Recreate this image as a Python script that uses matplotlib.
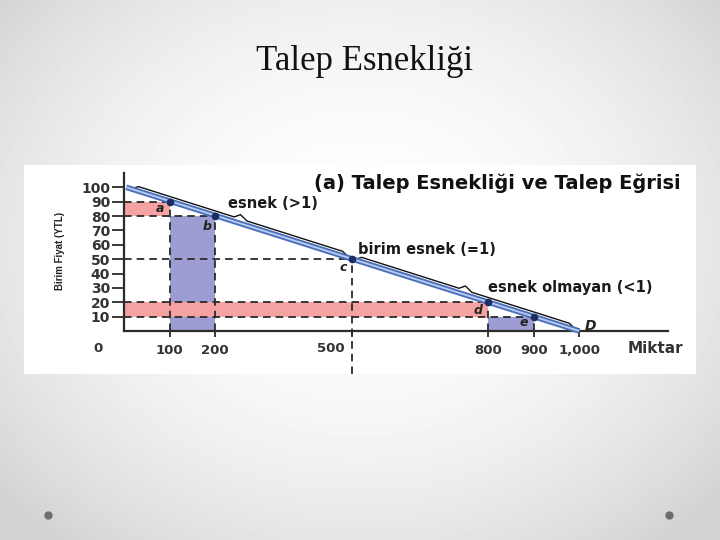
import numpy as np
import matplotlib
matplotlib.use("Agg")
import matplotlib.pyplot as plt
from matplotlib.patches import Rectangle

# Chart data
price_ticks = [10, 20, 30, 40, 50, 60, 70, 80, 90, 100]
qty_ticks = [100, 200, 500, 800, 900, 1000]
qty_labels = ["100", "200", "500", "800", "900", "1,000"]
demand_q = [5, 1000]
demand_p = [100, 0]
point_names = ["a", "b", "c", "d", "e"]
point_q = [100, 200, 500, 800, 900]
point_p = [90, 80, 50, 20, 10]
segment_labels = ["esnek (>1)", "birim esnek (=1)", "esnek olmayan (<1)"]

slide_title = "Talep Esnekliği"
chart_title = "(a) Talep Esnekliği ve Talep Eğrisi"

W, H = 720, 540
fig = plt.figure(figsize=(7.2, 5.4), dpi=100)

# slide background: soft radial gradient
bg = fig.add_axes([0, 0, 1, 1])
yy, xx = np.mgrid[0:1:270j, 0:1:360j]
r = np.sqrt(((xx - 0.5) / 0.5) ** 2 + ((yy - 0.45) / 0.55) ** 2)
bg.imshow(1 - 0.17 * np.clip(r / 1.3, 0, 1) ** 2, cmap="gray", vmin=0, vmax=1,
          extent=[0, 1, 0, 1], aspect="auto")
bg.set_xlim(0, 1)
bg.set_ylim(0, 1)
bg.axis("off")
bg.text(365 / W, 1 - 62 / H, slide_title, ha="center", va="center",
        fontsize=25, family="Liberation Serif", color="#111111")
for bx in (48, 669):
    bg.plot(bx / W, 1 - 515 / H, "o", color="#6e6e6e", markersize=5)

# picture panel with the chart
px_left, px_right, px_top, px_bot = 24, 696, 165, 374
x0_px, x_scale = 124, 0.4553     # pixel of q=0, pixels per unit
y0_px, y_scale = 331, 1.437      # pixel of p=0, pixels per unit
ax = fig.add_axes([px_left / W, 1 - px_bot / H, (px_right - px_left) / W,
                   (px_bot - px_top) / H])
ax.set_facecolor("white")
ax.set_xlim((px_left - x0_px) / x_scale, (px_right - x0_px) / x_scale)
ax.set_ylim((y0_px - px_bot) / y_scale, (y0_px - px_top) / y_scale)

for s in ("top", "right"):
    ax.spines[s].set_visible(False)
ax.spines["left"].set_position(("data", 0))
ax.spines["bottom"].set_position(("data", 0))
ax.spines["left"].set_bounds(0, 110)
ax.spines["bottom"].set_bounds(0, 1195)
for s in ("left", "bottom"):
    ax.spines[s].set_color("#2b2b2b")
    ax.spines[s].set_linewidth(1.6)

ax.set_yticks(price_ticks)
ax.set_yticklabels([str(v) for v in price_ticks], fontsize=10, fontweight="bold")
ax.set_xticks(qty_ticks)
# the "500" label sits left of its dashed line, drawn separately below
ax.set_xticklabels(["" if q == 500 else t for q, t in zip(qty_ticks, qty_labels)],
                   fontsize=9.5, fontweight="bold")
ax.tick_params(axis="y", direction="out", length=8.5, width=1.3, pad=1.5, colors="#2b2b2b")
ax.tick_params(axis="x", direction="out", length=4, width=1.3, pad=5, colors="#2b2b2b")
for lab in ax.get_xticklabels() + ax.get_yticklabels():
    lab.set_color("#333333")
ax.text(500 - 45, -12.5, qty_labels[qty_ticks.index(500)], ha="center", va="center",
        fontsize=9.5, fontweight="bold", color="#333333")

ax.text(-57, -12.5, "0", ha="center", va="center", fontsize=9.5,
        fontweight="bold", color="#333333")
ax.text(1168, -12.5, "Miktar", ha="center", va="center", fontsize=11,
        fontweight="bold", color="#333333")
ax.text(-141, 56, "Birim Fiyat (YTL)", rotation=90, ha="center", va="center",
        fontsize=7, fontweight="bold", color="#222222", family="Liberation Sans")
ax.text(820, 103, chart_title, ha="center", va="center", fontsize=14,
        fontweight="bold", color="#111111")

# shaded revenue areas for the two pairs (a,b) and (d,e)
pink, lilac = "#f5a2a2", "#9d9dd3"
for i in (0, 3):
    q1, q2 = point_q[i], point_q[i + 1]
    p1, p2 = point_p[i], point_p[i + 1]
    ax.add_patch(Rectangle((0, p2), q1, p1 - p2, facecolor=pink, edgecolor="none", zorder=1))
    ax.add_patch(Rectangle((q1, 0), q2 - q1, p2, facecolor=lilac, edgecolor="none", zorder=1))

# dashed guides
dash = (0, (4.2, 2.8))
for q, p in zip(point_q, point_p):
    ax.plot([0, q], [p, p], color="#2b2b2b", lw=1.3, ls=dash, zorder=2)
    bottom = ax.get_ylim()[0] if q == 500 else 0
    ax.plot([q, q], [bottom, p], color="#2b2b2b", lw=1.3, ls=dash, zorder=2,
            clip_on=False)

# braces above the demand line
def brace(qa, qb, off=3.2, bump=3.0):
    qm = (qa + qb) / 2
    qs = np.array([qa, qa + 12, qm - 14, qm, qm + 14, qb - 12, qb])
    offs = np.array([0.8, off, off, off + bump, off, off, 0.8])
    ps = np.interp(qs, demand_q, demand_p) + offs
    ax.plot(qs, ps, color="#111111", lw=1.0, zorder=3)

brace(20, 492)
brace(510, 990)

# demand curve
ax.plot(demand_q, demand_p, color="#4a6fbd", lw=4.0, solid_capstyle="butt", zorder=4)
ax.plot(demand_q, demand_p, color="#b9cdee", lw=1.3, solid_capstyle="butt", zorder=5)
ax.plot(point_q, point_p, "o", color="#1b2d63", markersize=4.5, zorder=6)

label_off = [(-21, -5), (-18, -7), (-19, -5.5), (-23, -6), (-22, -4)]
for name, q, p, (dq, dp) in zip(point_names, point_q, point_p, label_off):
    ax.text(q + dq, p + dp, name, ha="center", va="center", fontsize=9,
            fontweight="bold", fontstyle="italic", color="#222222", zorder=7)
ax.text(demand_q[1] + 24, demand_p[1] + 3.5, "D", ha="center", va="center",
        fontsize=10, fontweight="bold", fontstyle="italic", color="#222222")

seg_pos = [(228, 89), (514, 56.4), (799, 30.6)]
for txt, (q, p) in zip(segment_labels, seg_pos):
    ax.text(q, p, txt, ha="left", va="center", fontsize=10.5, fontweight="bold",
            color="#1a1a1a")

fig.savefig("out.png", dpi=100)
